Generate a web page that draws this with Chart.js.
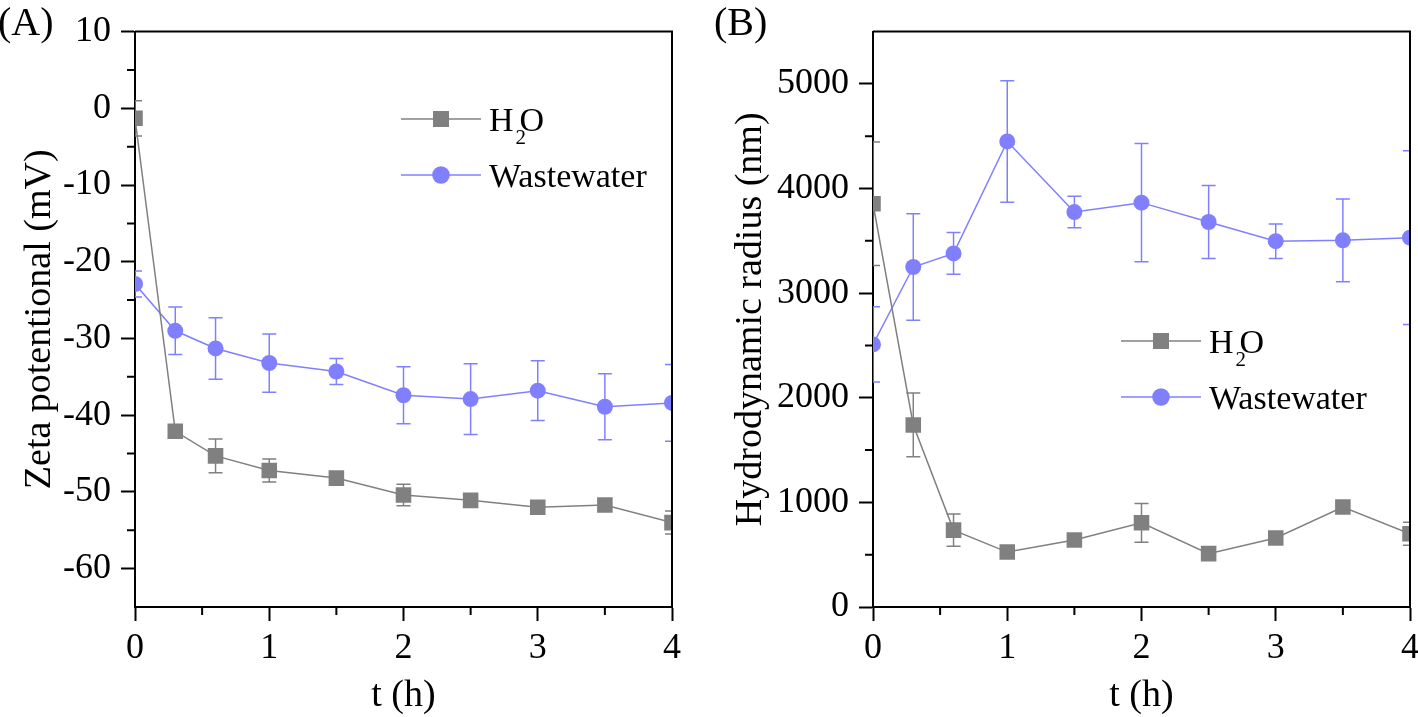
<!DOCTYPE html>
<html>
<head>
<meta charset="utf-8">
<script src="https://cdn.jsdelivr.net/npm/chart.js@4.4.0/dist/chart.umd.min.js"></script>
<style>
  body { margin: 0; background: #fff; width: 1418px; height: 717px; overflow: hidden; position: relative; }
  canvas { position: absolute; top: 0; }
  #zetaChart { left: 0; }
  #radiusChart { left: 700px; }
  .panel { position: absolute; top: 0; font-family: "Liberation Serif", "Times New Roman", serif; font-size: 40px; line-height: 44px; color: #000; }
</style>
</head>
<body>
<canvas id="zetaChart" width="700" height="717"></canvas>
<canvas id="radiusChart" width="725" height="717"></canvas>
<div class="panel" style="left:-2px">(A)</div>
<div class="panel" style="left:714px">(B)</div>
<script>
// Sampling times (h)
const time = [0, 0.3, 0.6, 1, 1.5, 2, 2.5, 3, 3.5, 4];
const timeTicks = [0, 1, 2, 3, 4];

// (A) Zeta potential (mV), mean and +/- error
const zetaH2O = [-1.3, -42.1, -45.3, -47.2, -48.2, -50.4, -51.1, -52.0, -51.7, -54.0];
const zetaH2OErr = [2.3, 0.5, 2.2, 1.5, 0.6, 1.4, 0.7, 0.4, 0.5, 1.5];
const zetaWW = [-22.9, -29.0, -31.3, -33.2, -34.3, -37.4, -37.9, -36.8, -38.9, -38.4];
const zetaWWErr = [1.7, 3.1, 4.0, 3.8, 1.7, 3.7, 4.6, 3.9, 4.3, 5.0];
const zetaTicks = [-60, -50, -40, -30, -20, -10, 0, 10];

// (B) Hydrodynamic radius (nm), mean and +/- error
const radiusH2O = [3855, 1740, 735, 525, 640, 805, 510, 660, 955, 700];
const radiusH2OErr = [590, 305, 155, 50, 40, 185, 50, 40, 50, 110];
const radiusWW = [2510, 3250, 3380, 4450, 3775, 3865, 3680, 3497, 3505, 3530];
const radiusWWErr = [360, 510, 200, 580, 150, 565, 350, 165, 395, 830];
const radiusTicks = [0, 1000, 2000, 3000, 4000, 5000];

const seriesNames = ['H2O', 'Wastewater'];
const greyColor = 'rgb(128, 128, 128)';
const blueColor = 'rgb(128, 128, 255)';
const FONT = '"Liberation Serif", "Times New Roman", serif';

function toPoints(ys) {
    return time.map((t, i) => ({ x: t, y: ys[i] }));
}

// error bars, drawn under the markers and clipped to the plot box
const errorBars = {
    id: 'errorBars',
    beforeDatasetsDraw(chart) {
        const { ctx, chartArea, scales: { x, y } } = chart;
        ctx.save();
        ctx.beginPath();
        ctx.rect(chartArea.left, chartArea.top, chartArea.width, chartArea.height);
        ctx.clip();
        chart.data.datasets.forEach(ds => {
            ctx.strokeStyle = ds.borderColor;
            ctx.lineWidth = 1.5;
            ds.data.forEach((p, i) => {
                const e = ds.errors[i];
                const px = x.getPixelForValue(p.x);
                const top = y.getPixelForValue(p.y + e);
                const bot = y.getPixelForValue(p.y - e);
                ctx.beginPath();
                ctx.moveTo(px, top); ctx.lineTo(px, bot);
                ctx.moveTo(px - 7, top); ctx.lineTo(px + 7, top);
                ctx.moveTo(px - 7, bot); ctx.lineTo(px + 7, bot);
                ctx.stroke();
            });
        });
        ctx.restore();
    }
};

// box frame (top + right) and the minor ticks halfway between majors
const frame = {
    id: 'frame',
    afterDraw(chart) {
        const { ctx, chartArea: a, scales: { x, y } } = chart;
        ctx.save();
        ctx.strokeStyle = '#000';
        ctx.lineWidth = 2;
        ctx.beginPath();
        ctx.moveTo(a.left, a.top); ctx.lineTo(a.right, a.top); ctx.lineTo(a.right, a.bottom);
        const xt = x.ticks.map(t => t.value);
        for (let i = 0; i < xt.length - 1; i++) {
            const px = x.getPixelForValue((xt[i] + xt[i + 1]) / 2);
            ctx.moveTo(px, a.bottom); ctx.lineTo(px, a.bottom + 8);
        }
        const yt = y.ticks.map(t => t.value);
        const step = yt[1] - yt[0];
        for (let i = 0; i < yt.length; i++) {
            const v = yt[i] + step / 2;
            if (v >= y.max) continue;
            const py = y.getPixelForValue(v);
            ctx.moveTo(a.left, py); ctx.lineTo(a.left - 8, py);
        }
        if (yt[0] - step / 2 > y.min) {
            const py = y.getPixelForValue(yt[0] - step / 2);
            ctx.moveTo(a.left, py); ctx.lineTo(a.left - 8, py);
        }
        ctx.stroke();
        ctx.restore();
    }
};

// legend drawn inside the plot, with a real subscript in H2O
const innerLegend = {
    id: 'innerLegend',
    afterDraw(chart, args, opts) {
        const ctx = chart.ctx;
        ctx.save();
        chart.data.datasets.forEach((ds, i) => {
            const y = opts.y + i * 56;
            const x0 = opts.x, x1 = opts.x + 80, xm = (x0 + x1) / 2;
            ctx.strokeStyle = ds.borderColor;
            ctx.fillStyle = ds.backgroundColor;
            ctx.lineWidth = 1.5;
            ctx.beginPath(); ctx.moveTo(x0, y); ctx.lineTo(x1, y); ctx.stroke();
            ctx.beginPath();
            if (ds.pointStyle === 'rect') ctx.rect(xm - 8, y - 8, 16, 16);
            else ctx.arc(xm, y, 8.8, 0, Math.PI * 2);
            ctx.fill();

            ctx.fillStyle = '#000';
            ctx.textBaseline = 'alphabetic';
            ctx.textAlign = 'left';
            ctx.font = '34px ' + FONT;
            const tx = x1 + 8, base = y + 12;
            if (ds.label === 'H2O') {
                ctx.fillText('H', tx, base);
                const wH = ctx.measureText('H').width;
                ctx.font = '21px ' + FONT;
                ctx.fillText('2', tx + wH + 2, base + 13);
                ctx.font = '34px ' + FONT;
                ctx.fillText('O', tx + wH + 6, base);
            } else {
                ctx.fillText(ds.label, tx, base);
            }
        });
        ctx.restore();
    }
};

function makeChart(canvasId, h2o, h2oErr, ww, wwErr, yCfg, layoutCfg) {
    const ctx = document.getElementById(canvasId).getContext('2d');
    return new Chart(ctx, {
        type: 'line',
        data: {
            datasets: [{
                label: seriesNames[0],
                data: toPoints(h2o),
                errors: h2oErr,
                borderColor: greyColor,
                backgroundColor: greyColor,
                borderWidth: 1.5,
                pointStyle: 'rect',
                pointRadius: 11,
                pointBorderWidth: 0,
                tension: 0
            }, {
                label: seriesNames[1],
                data: toPoints(ww),
                errors: wwErr,
                borderColor: blueColor,
                backgroundColor: blueColor,
                borderWidth: 1.5,
                pointStyle: 'circle',
                pointRadius: 8,
                pointBorderWidth: 0,
                tension: 0
            }]
        },
        options: {
            responsive: false,
            animation: false,
            events: [],
            layout: { padding: { top: 29, right: layoutCfg.right, left: 0, bottom: 0 } },
            plugins: {
                legend: { display: false },
                tooltip: { enabled: false },
                innerLegend: { x: layoutCfg.legendX, y: layoutCfg.legendY }
            },
            scales: {
                x: {
                    type: 'linear',
                    min: 0, max: 4,
                    afterBuildTicks: s => { s.ticks = timeTicks.map(v => ({ value: v })); },
                    ticks: { autoSkip: false, callback: v => String(v), color: '#000', font: { family: FONT, size: 36 }, padding: 6, maxRotation: 0 },
                    grid: { drawOnChartArea: false, tickLength: 14, tickWidth: 2, tickColor: '#000' },
                    border: { color: '#000', width: 2 },
                    title: { display: true, text: 't (h)', color: '#000', font: { family: FONT, size: 38, lineHeight: 1 }, padding: { top: 0, bottom: 2 } },
                    afterFit: s => { s.height = 110; }
                },
                y: {
                    type: 'linear',
                    min: yCfg.min, max: yCfg.max,
                    afterBuildTicks: s => { s.ticks = yCfg.ticks.map(v => ({ value: v })); },
                    ticks: { autoSkip: false, callback: v => String(v), color: '#000', font: { family: FONT, size: 36 }, padding: 10 },
                    grid: { drawOnChartArea: false, tickLength: 14, tickWidth: 2, tickColor: '#000' },
                    border: { color: '#000', width: 2 },
                    title: { display: true, text: yCfg.title, color: '#000', font: { family: FONT, size: 38 }, padding: { top: layoutCfg.titlePad, bottom: 0 } },
                    afterFit: s => { s.width = layoutCfg.axisWidth; }
                }
            }
        },
        plugins: [errorBars, frame, innerLegend]
    });
}

const zetaChart = makeChart('zetaChart', zetaH2O, zetaH2OErr, zetaWW, zetaWWErr,
    { min: -65, max: 10, ticks: zetaTicks, title: 'Zeta potentional (mV)' },
    { right: 28, axisWidth: 135, titlePad: 17, legendX: 401, legendY: 119 });

const radiusChart = makeChart('radiusChart', radiusH2O, radiusH2OErr, radiusWW, radiusWWErr,
    { min: 0, max: 5500, ticks: radiusTicks, title: 'Hydrodynamic radius (nm)' },
    { right: 0, axisWidth: 173, titlePad: 28, legendX: 421, legendY: 341 });
</script>
</body>
</html>
